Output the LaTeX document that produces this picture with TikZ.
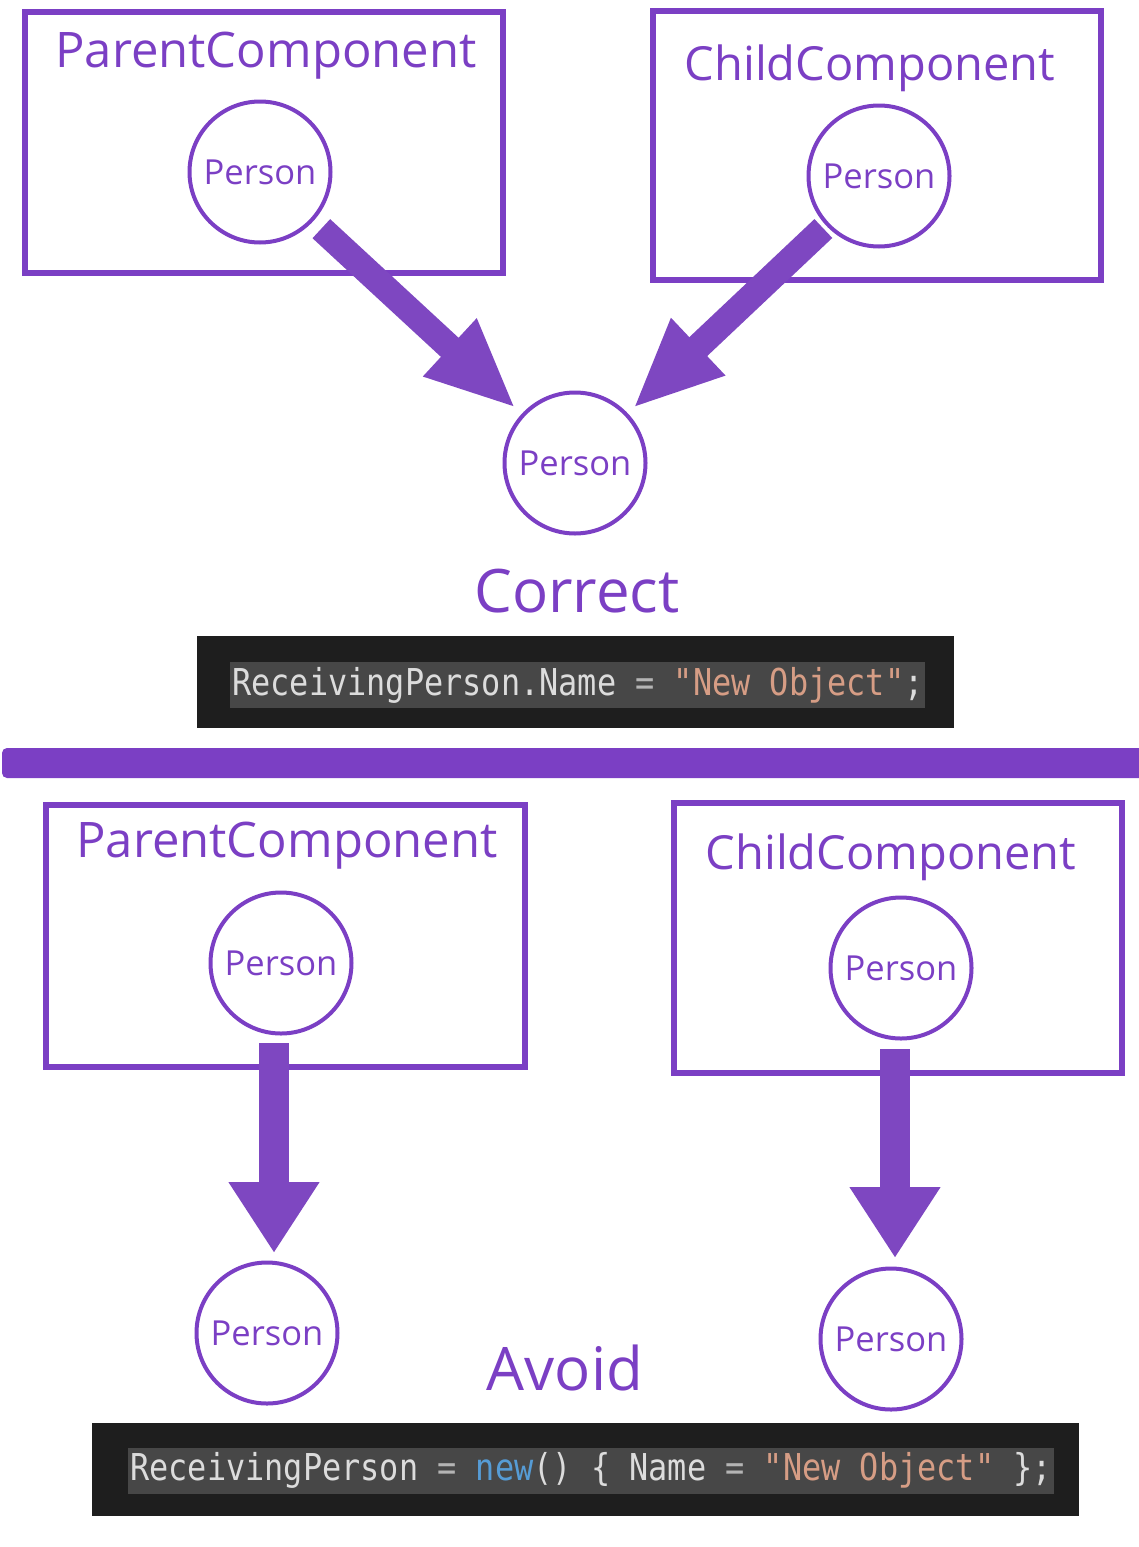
\documentclass[tikz,border=0pt]{standalone}
\usepackage{fontspec}
\setmainfont{Open Sans}
\newfontfamily\codefont[FakeStretch=0.862]{DejaVu Sans Mono}
\usetikzlibrary{positioning,arrows.meta,calc}
\definecolor{compPurple}{HTML}{7B3FC4}
\definecolor{arrowPurple}{HTML}{7E47C1}
\definecolor{codeBack}{HTML}{1E1E1E}
\definecolor{codeSel}{HTML}{474747}
\definecolor{codeText}{HTML}{DCDCDC}
\definecolor{codeEq}{HTML}{B4B4B4}
\definecolor{codeString}{HTML}{D69D85}
\definecolor{codeKey}{HTML}{569CD6}

\begin{document}
\begin{tikzpicture}[x=1pt, y=-1pt,
  compbox/.style={draw=compPurple, line width=5.5pt, inner sep=0pt},
  person/.style={circle, draw=compPurple, line width=4pt, minimum size=141pt, inner sep=0pt, text=compPurple, font=\fontsize{34.5}{40}\selectfont},
  compname/.style={text=compPurple, font=\fontsize{49}{58}\selectfont, anchor=base, inner sep=0pt},
  verdict/.style={text=compPurple, font=\fontsize{60}{72}\selectfont, anchor=base, inner sep=0pt},
  diagarrow/.style={draw=arrowPurple, line width=26pt, -{Triangle[length=90pt, width=72pt]}},
  vertarrow/.style={draw=arrowPurple, line width=30pt, -{Triangle[length=71pt, width=86pt]}},
  codebox/.style={fill=codeBack, inner sep=0pt},
  codeline/.style={fill=codeSel, text=codeText, inner xsep=2pt, inner ysep=0pt, minimum height=46pt, anchor=west, font=\codefont\fontsize{37}{44}\selectfont}]
  \useasboundingbox (0,0) rectangle (1138,1547);

  % correct: shared reference
  \node[compbox, minimum width=478pt, minimum height=261pt] (parentTop) at (264,142.5) {};
  \node[compname] (parentTopName) at (266,67) {ParentComponent};
  \node[person] (personParentTop) at (260,172) {Person};
  \node[compbox, minimum width=448pt, minimum height=269pt] (childTop) at (877,145.5) {};
  \node[compname, font=\fontsize{47}{56}\selectfont] (childTopName) at (870,80) {ChildComponent};
  \node[person] (personChildTop) at (879,176) {Person};
  \node[person] (personShared) at (575,463) {Person};
  \draw[diagarrow, shorten <=11pt, shorten >=8pt] (personParentTop) -- (personShared);
  \draw[diagarrow, shorten <=4pt, shorten >=7pt] (personChildTop) -- (personShared);
  \node[verdict] (correctLabel) at (577,612) {Correct};
  \node[codebox, minimum width=757pt, minimum height=92pt] (correctCode) at (575.5,682) {};
  \node[codeline] (correctLine) at (230,685) {ReceivingPerson.Name \textcolor{codeEq}{=} \textcolor{codeString}{"New Object"};};

  % divider
  \fill[compPurple, rounded corners=5pt] (2,748) rectangle (1150,778);

  % avoid: new object
  \node[compbox, minimum width=479pt, minimum height=262pt] (parentBottom) at (285.5,936) {};
  \node[compname] (parentBottomName) at (287,857) {ParentComponent};
  \node[person] (personParentBottom) at (281,963) {Person};
  \node[compbox, minimum width=448pt, minimum height=270pt] (childBottom) at (898,938) {};
  \node[compname, font=\fontsize{47}{56}\selectfont] (childBottomName) at (891,869) {ChildComponent};
  \node[person] (personChildBottom) at (901,968) {Person};
  \node[person] (personLeft) at (267,1333) {Person};
  \node[person] (personRight) at (891,1339) {Person};
  \draw[vertarrow] ($(personParentBottom.center)+(-7,80)$) -- ($(personLeft.center)+(7,-80)$);
  \draw[vertarrow] ($(personChildBottom.center)+(-6,81)$) -- ($(personRight.center)+(4,-81)$);
  \node[verdict] (avoidLabel) at (565,1390) {Avoid};
  \node[codebox, minimum width=987pt, minimum height=93pt] (avoidCode) at (585.5,1469.5) {};
  \node[codeline] (avoidLine) at (128,1470.5) {ReceivingPerson \textcolor{codeEq}{=} \textcolor{codeKey}{new}() \{ Name \textcolor{codeEq}{=} \textcolor{codeString}{"New Object"} \};};
\end{tikzpicture}
\end{document}
